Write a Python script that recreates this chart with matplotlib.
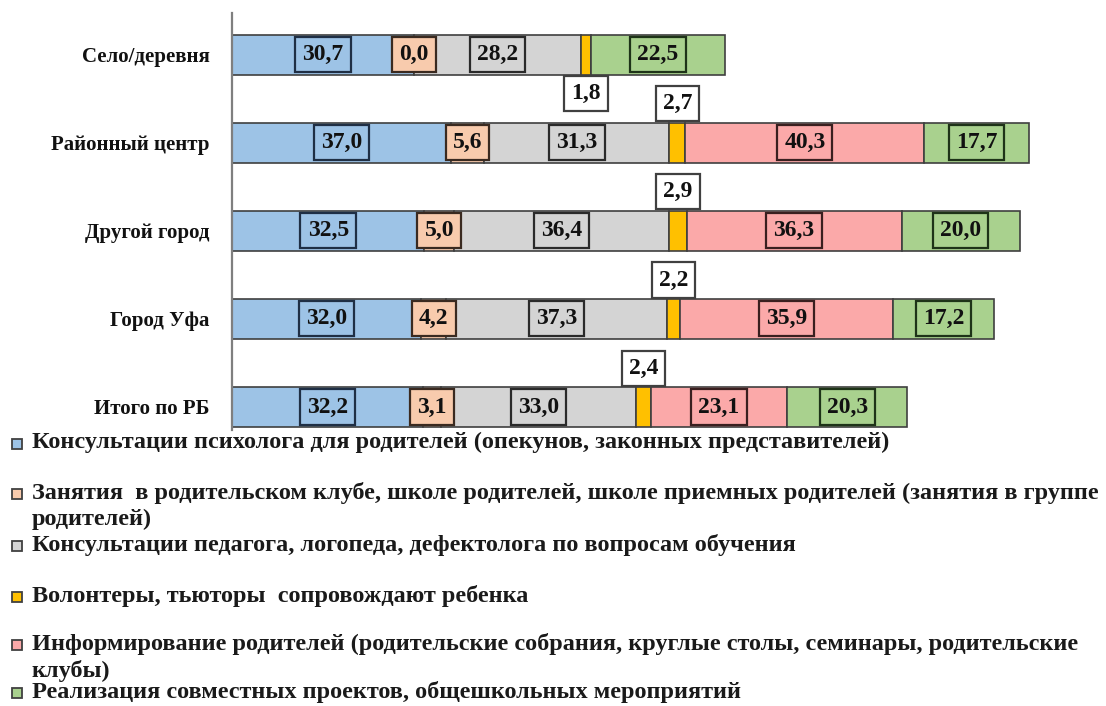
import numpy as np
import matplotlib
matplotlib.use("Agg")
import matplotlib.pyplot as plt
from matplotlib.patches import Rectangle

# ---- data ----
categories = ['Село/деревня', 'Районный центр', 'Другой город', 'Город Уфа', 'Итого по РБ']
psychologist = [30.7, 37.0, 32.5, 32.0, 32.2]
parent_club = [0.0, 5.6, 5.0, 4.2, 3.1]
pedagogue = [28.2, 31.3, 36.4, 37.3, 33.0]
volunteers = [1.8, 2.7, 2.9, 2.2, 2.4]
informing = [np.nan, 40.3, 36.3, 35.9, 23.1]
projects = [22.5, 17.7, 20.0, 17.2, 20.3]

series_names = [
    'Консультации психолога для родителей (опекунов, законных представителей)',
    'Занятия  в родительском клубе, школе родителей, школе приемных родителей (занятия в группе\nродителей)',
    'Консультации педагога, логопеда, дефектолога по вопросам обучения',
    'Волонтеры, тьюторы  сопровождают ребенка',
    'Информирование родителей (родительские собрания, круглые столы, семинары, родительские\nклубы)',
    'Реализация совместных проектов, общешкольных мероприятий',
]

series = [psychologist, parent_club, pedagogue, volunteers, informing, projects]
colors = ['#9DC3E6', '#F8CBAD', '#D4D4D4', '#FFC000', '#FBA9A9', '#A9D18E']
label_edges = ['#1F2F45', '#3A2A20', '#2A2A2A', '#404040', '#3A1F1F', '#1E3318']

FONT = 'Liberation Serif'
plt.rcParams['font.family'] = [FONT, 'DejaVu Serif']

W, H = 1106, 706
fig = plt.figure(figsize=(W / 100, H / 100), dpi=100)
ax = fig.add_axes([232 / W, (H - 430) / H, 868 / W, 417 / H])

ypos = np.arange(len(categories))[::-1]  # Село at top
bar_h = 0.454
left = np.zeros(len(categories))
small_side = [-1, 1, 1, 1, 1]  # volunteers label: below first bar, above others

for si, vals in enumerate(series):
    v = np.array(vals, dtype=float)
    w = np.nan_to_num(v)
    ax.barh(ypos, w, left=left, height=bar_h, color=colors[si],
            edgecolor='#3F3F3F', linewidth=1.2, zorder=2)
    for i, val in enumerate(v):
        if np.isnan(val):
            continue
        cx = left[i] + w[i] / 2
        txt = f"{val:.1f}".replace('.', ',')
        if si == 3:
            ax.annotate(txt, xy=(cx, ypos[i]), xytext=(0, 28 * small_side[i]),
                        textcoords='offset points', ha='center', va='center',
                        fontsize=17, fontweight='bold', color='#111111', zorder=5,
                        bbox=dict(boxstyle='square,pad=0.3', facecolor='white',
                                  edgecolor='#404040', linewidth=1.6))
        else:
            ax.text(cx, ypos[i], txt, ha='center', va='center', fontsize=17,
                    fontweight='bold', color='#111111', zorder=5,
                    bbox=dict(boxstyle='square,pad=0.3', facecolor=colors[si],
                              edgecolor=label_edges[si], linewidth=1.6))
    left = left + w

ax.set_xlim(0, 868 / 5.92)
ax.set_ylim(-0.261, 4.471)
ax.set_yticks(ypos)
ax.set_yticklabels(categories, fontsize=15, fontweight='bold', color='#111111')
ax.tick_params(axis='y', length=0, pad=16)
ax.tick_params(axis='x', length=0, labelbottom=False)
for s in ['top', 'right', 'bottom']:
    ax.spines[s].set_visible(False)
ax.spines['left'].set_color('#7F7F7F')
ax.spines['left'].set_linewidth(1.6)
ax.set_facecolor('none')

# ---- legend (drawn in figure pixels) ----
legend_y = [444, 494, 546, 597, 645, 693]
for si, name in enumerate(series_names):
    yc = legend_y[si]
    fig.patches.append(Rectangle((12 / W, 1 - (yc + 5) / H), 10 / W, 10 / H,
                                 transform=fig.transFigure, facecolor=colors[si],
                                 edgecolor='#404040', linewidth=1.3))
    fig.text(32 / W, 1 - (yc - 12) / H, name, ha='left', va='top', fontsize=17.5,
             fontweight='bold', color='#1A1A1A', linespacing=1.27)

fig.savefig('out.png', dpi=100)
